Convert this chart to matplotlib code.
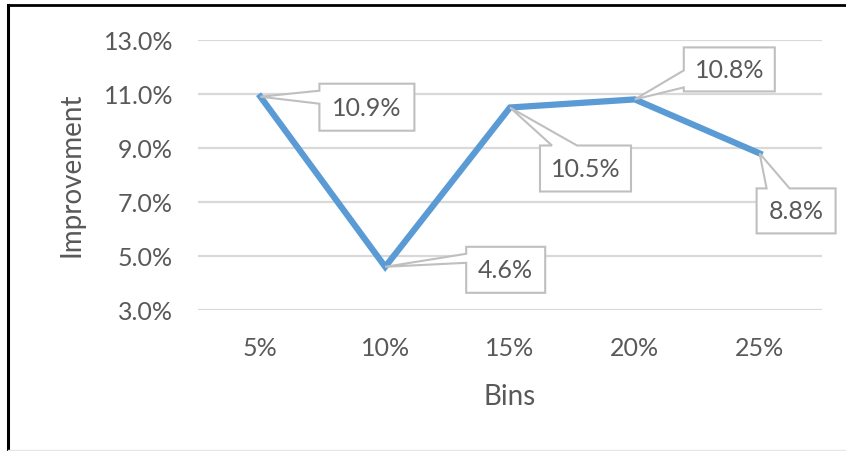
import matplotlib.pyplot as plt
from matplotlib.patches import Polygon
from matplotlib.lines import Line2D
from matplotlib.ticker import FuncFormatter

bins = ['5%', '10%', '15%', '20%', '25%']
improvement = [10.9, 4.6, 10.5, 10.8, 8.8]
labels = ['10.9%', '4.6%', '10.5%', '10.8%', '8.8%']

# callout layout per point (pixels): box centre offset (dx, dy, y down),
# box width/height, side the pointer leaves from and its span on that side
callouts = [
    ((106.5, 10.5), (95, 47), 'left', (-16.5, -3.5)),
    ((120.5, 3), (79, 46), 'left', (-16, -7)),
    ((75.5, 61), (91, 46), 'top', (-33.5, -8.5)),
    ((94.5, -30), (91, 44), 'left', (1, 18)),
    ((36.5, 57.5), (79, 45), 'top', (-29.5, -6.5)),
]

text_color = '#595959'
grid_color = '#D9D9D9'
line_color = '#5B9BD5'
box_color = '#BFBFBF'

plt.rcParams['font.family'] = ['Lato', 'DejaVu Sans']

W, H = 846, 452
fig = plt.figure(figsize=(W / 100, H / 100), dpi=100)
ax = fig.add_axes([198 / W, 1 - 311 / H, 624 / W, 270 / H])

x = list(range(len(bins)))
ax.plot(x, improvement, color=line_color, lw=4.5, solid_joinstyle='miter', zorder=3)

ax.set_xlim(-0.5, len(bins) - 0.5)
ax.set_ylim(3, 13)
ax.set_yticks([3, 5, 7, 9, 11, 13])
ax.yaxis.set_major_formatter(FuncFormatter(lambda v, p: f'{v:.1f}%'))
ax.set_xticks(x)
ax.set_xticklabels(bins)
ax.grid(axis='y', color=grid_color, lw=1.6)
ax.set_axisbelow(True)
for s in ax.spines.values():
    s.set_visible(False)
ax.tick_params(axis='both', length=0, labelsize=18, labelcolor=text_color)
ax.tick_params(axis='x', pad=19)
ax.tick_params(axis='y', pad=18)

ax.set_xlabel('Bins', fontsize=20, color=text_color, va='center')
ax.xaxis.set_label_coords(0.5, -0.318)
ax.set_ylabel('Improvement', fontsize=20, color=text_color, va='center')
ax.yaxis.set_label_coords(-0.202, 0.505)

# Excel-style callouts: box outline with a wedge pointing at the data point
for xi, yi, txt, (off, size, side, span) in zip(x, improvement, labels, callouts):
    px, py = ax.transData.transform((xi, yi))
    cx, cy = px + off[0], py - off[1]
    w, h = size
    l, r, b, t = cx - w / 2, cx + w / 2, cy - h / 2, cy + h / 2
    if side == 'left':
        verts = [(l, t), (r, t), (r, b), (l, b),
                 (l, cy - span[1]), (px, py), (l, cy - span[0])]
    else:
        verts = [(l, t), (cx + span[0], t), (px, py), (cx + span[1], t),
                 (r, t), (r, b), (l, b)]
    fig.patches.append(Polygon(verts, closed=True, facecolor='white',
                               edgecolor=box_color, lw=1.5, zorder=4,
                               transform=None, figure=fig))
    fig.text(cx / W, cy / H, txt, fontsize=18, color=text_color,
             ha='center', va='center', zorder=5)

# outer frame
fig.add_artist(Line2D([8 / W, 1], [1 - 6 / H, 1 - 6 / H], color='black', lw=2))
fig.add_artist(Line2D([8 / W, 8 / W], [0, 1 - 6 / H], color='black', lw=2.2))
fig.add_artist(Line2D([8 / W, 1], [1.5 / H, 1.5 / H], color='#E6E6E6', lw=1))

fig.savefig('out.png', dpi=100, facecolor='white')
